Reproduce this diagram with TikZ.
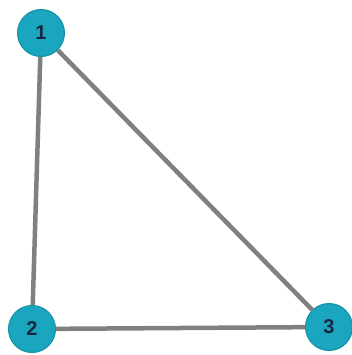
\documentclass[tikz,border=0pt]{standalone}
\usepackage{fontspec}
\setmainfont{Liberation Sans}
\usetikzlibrary{positioning}
\definecolor{vertex}{RGB}{26,166,190}
\definecolor{vertexrim}{RGB}{18,144,166}
\definecolor{edgegray}{RGB}{128,128,128}
\definecolor{label}{RGB}{22,38,66}

\begin{document}
\begin{tikzpicture}[x=1pt, y=-1pt,
    vertexnode/.style={circle, fill=vertex, draw=vertexrim, line width=1pt,
                       minimum size=47pt, inner sep=0pt, text=label,
                       font=\fontsize{20}{20}\selectfont\bfseries},
    edgeline/.style={draw=edgegray, line width=4.5pt}]
        \useasboundingbox (0,0) rectangle (352,355);
        \node[vertexnode] (v1) at (41,33) {1};
        \node[vertexnode] (v2) at (32,329) {2};
        \node[vertexnode] (v3) at (329,327) {3};
        \draw[edgeline] (v1) -- (v2);
        \draw[edgeline] (v1) -- (v3);
        \draw[edgeline] (v2) -- (v3);
      \end{tikzpicture}
\end{document}
